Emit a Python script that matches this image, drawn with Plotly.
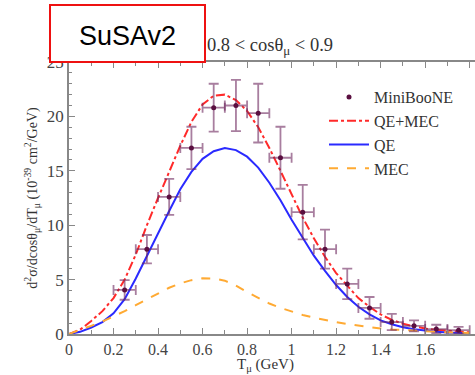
import plotly.graph_objects as go

# MiniBooNE data
data_x = [0.25, 0.35, 0.45, 0.55, 0.65, 0.75, 0.85, 0.95, 1.05, 1.15, 1.25, 1.35, 1.45, 1.55, 1.65, 1.75]
data_y = [4.05, 7.8, 12.6, 17.1, 20.8, 21.0, 20.3, 16.2, 11.2, 7.8, 4.6, 2.4, 1.1, 0.75, 0.45, 0.35]
data_err = [0.9, 1.3, 1.65, 1.95, 2.2, 2.35, 2.7, 2.85, 2.5, 1.8, 1.4, 1.0, 0.75, 0.5, 0.4, 0.3]
data_xerr = [0.05] * 16

# model curves
curve_x = [0.0, 0.05, 0.1, 0.15, 0.2, 0.25, 0.3, 0.35, 0.4, 0.45, 0.5, 0.55, 0.6, 0.65, 0.7,
           0.75, 0.8, 0.85, 0.9, 0.95, 1.0, 1.05, 1.1, 1.15, 1.2, 1.25, 1.3, 1.35, 1.4, 1.45,
           1.5, 1.55, 1.6, 1.65, 1.7, 1.75, 1.8]
qe = [0.0, 0.2, 0.6, 1.1, 1.9, 3.2, 5.1, 7.2, 9.2, 11.3, 13.3, 14.9, 16.1, 16.8, 17.1,
      16.9, 16.3, 15.3, 13.9, 12.3, 10.5, 8.8, 7.2, 5.8, 4.5, 3.4, 2.5, 1.8, 1.25, 0.9,
      0.62, 0.43, 0.3, 0.2, 0.14, 0.1, 0.07]
qe_mec = [0.0, 0.4, 1.2, 2.1, 3.3, 5.0, 7.3, 10.0, 12.5, 14.9, 17.3, 19.5, 21.1, 21.9, 22.0,
          21.5, 20.5, 19.0, 17.1, 15.0, 12.8, 10.7, 8.8, 7.1, 5.6, 4.4, 3.3, 2.5, 1.8, 1.3,
          0.95, 0.7, 0.5, 0.38, 0.28, 0.2, 0.15]
mec = [0.0, 0.35, 0.75, 1.15, 1.6, 2.1, 2.65, 3.2, 3.75, 4.25, 4.65, 4.95, 5.12, 5.1, 4.9,
       4.45, 3.85, 3.3, 2.8, 2.4, 2.05, 1.75, 1.5, 1.28, 1.1, 0.92, 0.76, 0.62, 0.5, 0.42,
       0.35, 0.3, 0.25, 0.2, 0.16, 0.13, 0.1]

x_ticks = [0, 0.2, 0.4, 0.6, 0.8, 1, 1.2, 1.4, 1.6, 1.8]
x_labels = ["0", "0.2", "0.4", "0.6", "0.8", "1", "1.2", "1.4", "1.6", "1.8"]
y_ticks = [0, 5, 10, 15, 20, 25]

serif = "Liberation Serif, Times New Roman, serif"
PW = 406  # plot width in px
PH = 272

fig = go.Figure()
fig.add_trace(go.Scatter(
    x=curve_x, y=qe_mec, mode="lines", name="QE+MEC", legendrank=2,
    line=dict(color="#ff2a2a", width=2, dash="dashdot")))
fig.add_trace(go.Scatter(
    x=curve_x, y=qe, mode="lines", name="QE", legendrank=3,
    line=dict(color="#2a2aff", width=2)))
fig.add_trace(go.Scatter(
    x=curve_x, y=mec, mode="lines", name="MEC", legendrank=4,
    line=dict(color="#ffaa33", width=2, dash="dash")))
fig.add_trace(go.Scatter(
    x=data_x, y=data_y, mode="markers", name="MiniBooNE", legendrank=1,
    marker=dict(color="#5a0f40", size=5),
    error_y=dict(type="data", array=data_err, color="rgba(110,40,95,0.6)", thickness=1.8, width=5),
    error_x=dict(type="data", array=data_xerr, color="rgba(110,40,95,0.6)", thickness=1.8, width=5)))

fig.update_layout(
    width=475, height=375,
    margin=dict(l=69, r=0, t=62, b=41, autoexpand=False),
    paper_bgcolor="white", plot_bgcolor="white",
    font=dict(family=serif, size=15, color="#333333"),
    showlegend=True,
    legend=dict(x=(324 - 69) / PW, y=(334 - 80) / PH, xanchor="left", yanchor="top",
                bgcolor="rgba(0,0,0,0)", font=dict(family=serif, size=16, color="#333333"),
                itemwidth=40, tracegroupgap=0),
    title=dict(text="0.8 < cosθ<sub>μ</sub> < 0.9", x=270 / 475, xanchor="center",
               y=1 - 45 / 375, yanchor="middle", yref="container",
               font=dict(family=serif, size=18.5, color="#333333")),
    xaxis=dict(range=[0, PW / 222.6], tickvals=x_ticks, ticktext=x_labels, automargin=False,
               ticks="inside", ticklen=6, tickcolor="#888888", showgrid=False, zeroline=False,
               showline=True, linecolor="#888888", mirror="ticks", linewidth=1.5,
               minor=dict(dtick=0.1, ticks="inside", ticklen=4, tickcolor="#888888"),
               tickfont=dict(family=serif, size=16, color="#444444")),
    yaxis=dict(range=[0, 25], tickvals=y_ticks, automargin=False,
               ticks="inside", ticklen=6, tickcolor="#888888", showgrid=False, zeroline=False,
               showline=True, linecolor="#888888", mirror=False, linewidth=1.5,
               minor=dict(dtick=1, ticks="inside", ticklen=3, tickcolor="#888888"),
               title=dict(text="d<sup>2</sup>σ/dcosθ<sub>μ</sub>/dT<sub>μ</sub> (10<sup>-39</sup> cm<sup>2</sup>/GeV)",
                          standoff=6, font=dict(family=serif, size=14, color="#333333")),
               tickfont=dict(family=serif, size=17, color="#444444")),
)

# x-axis title placed explicitly below the tick labels
fig.add_annotation(xref="paper", yref="paper",
                   x=(265 - 69) / PW, y=(334 - 365) / PH,
                   xanchor="center", yanchor="middle",
                   text="T<sub>μ</sub> (GeV)", showarrow=False,
                   font=dict(family=serif, size=15, color="#333333"))

fig.add_shape(type="rect", xref="paper", yref="paper",
              x0=(50 - 69) / PW, x1=(205 - 69) / PW,
              y0=(334 - 62) / PH, y1=(334 - 5) / PH,
              line=dict(color="#ee1111", width=2), fillcolor="white", layer="above")
fig.add_annotation(xref="paper", yref="paper",
                   x=(127 - 69) / PW, y=(334 - 36) / PH,
                   xanchor="center", yanchor="middle",
                   text="SuSAv2", showarrow=False,
                   font=dict(family="Liberation Sans, Arial, sans-serif", size=27, color="black"))

fig.write_html("out.html", config={"displayModeBar": False},
               post_script="document.body.style.margin='0';document.body.style.padding='0';")
